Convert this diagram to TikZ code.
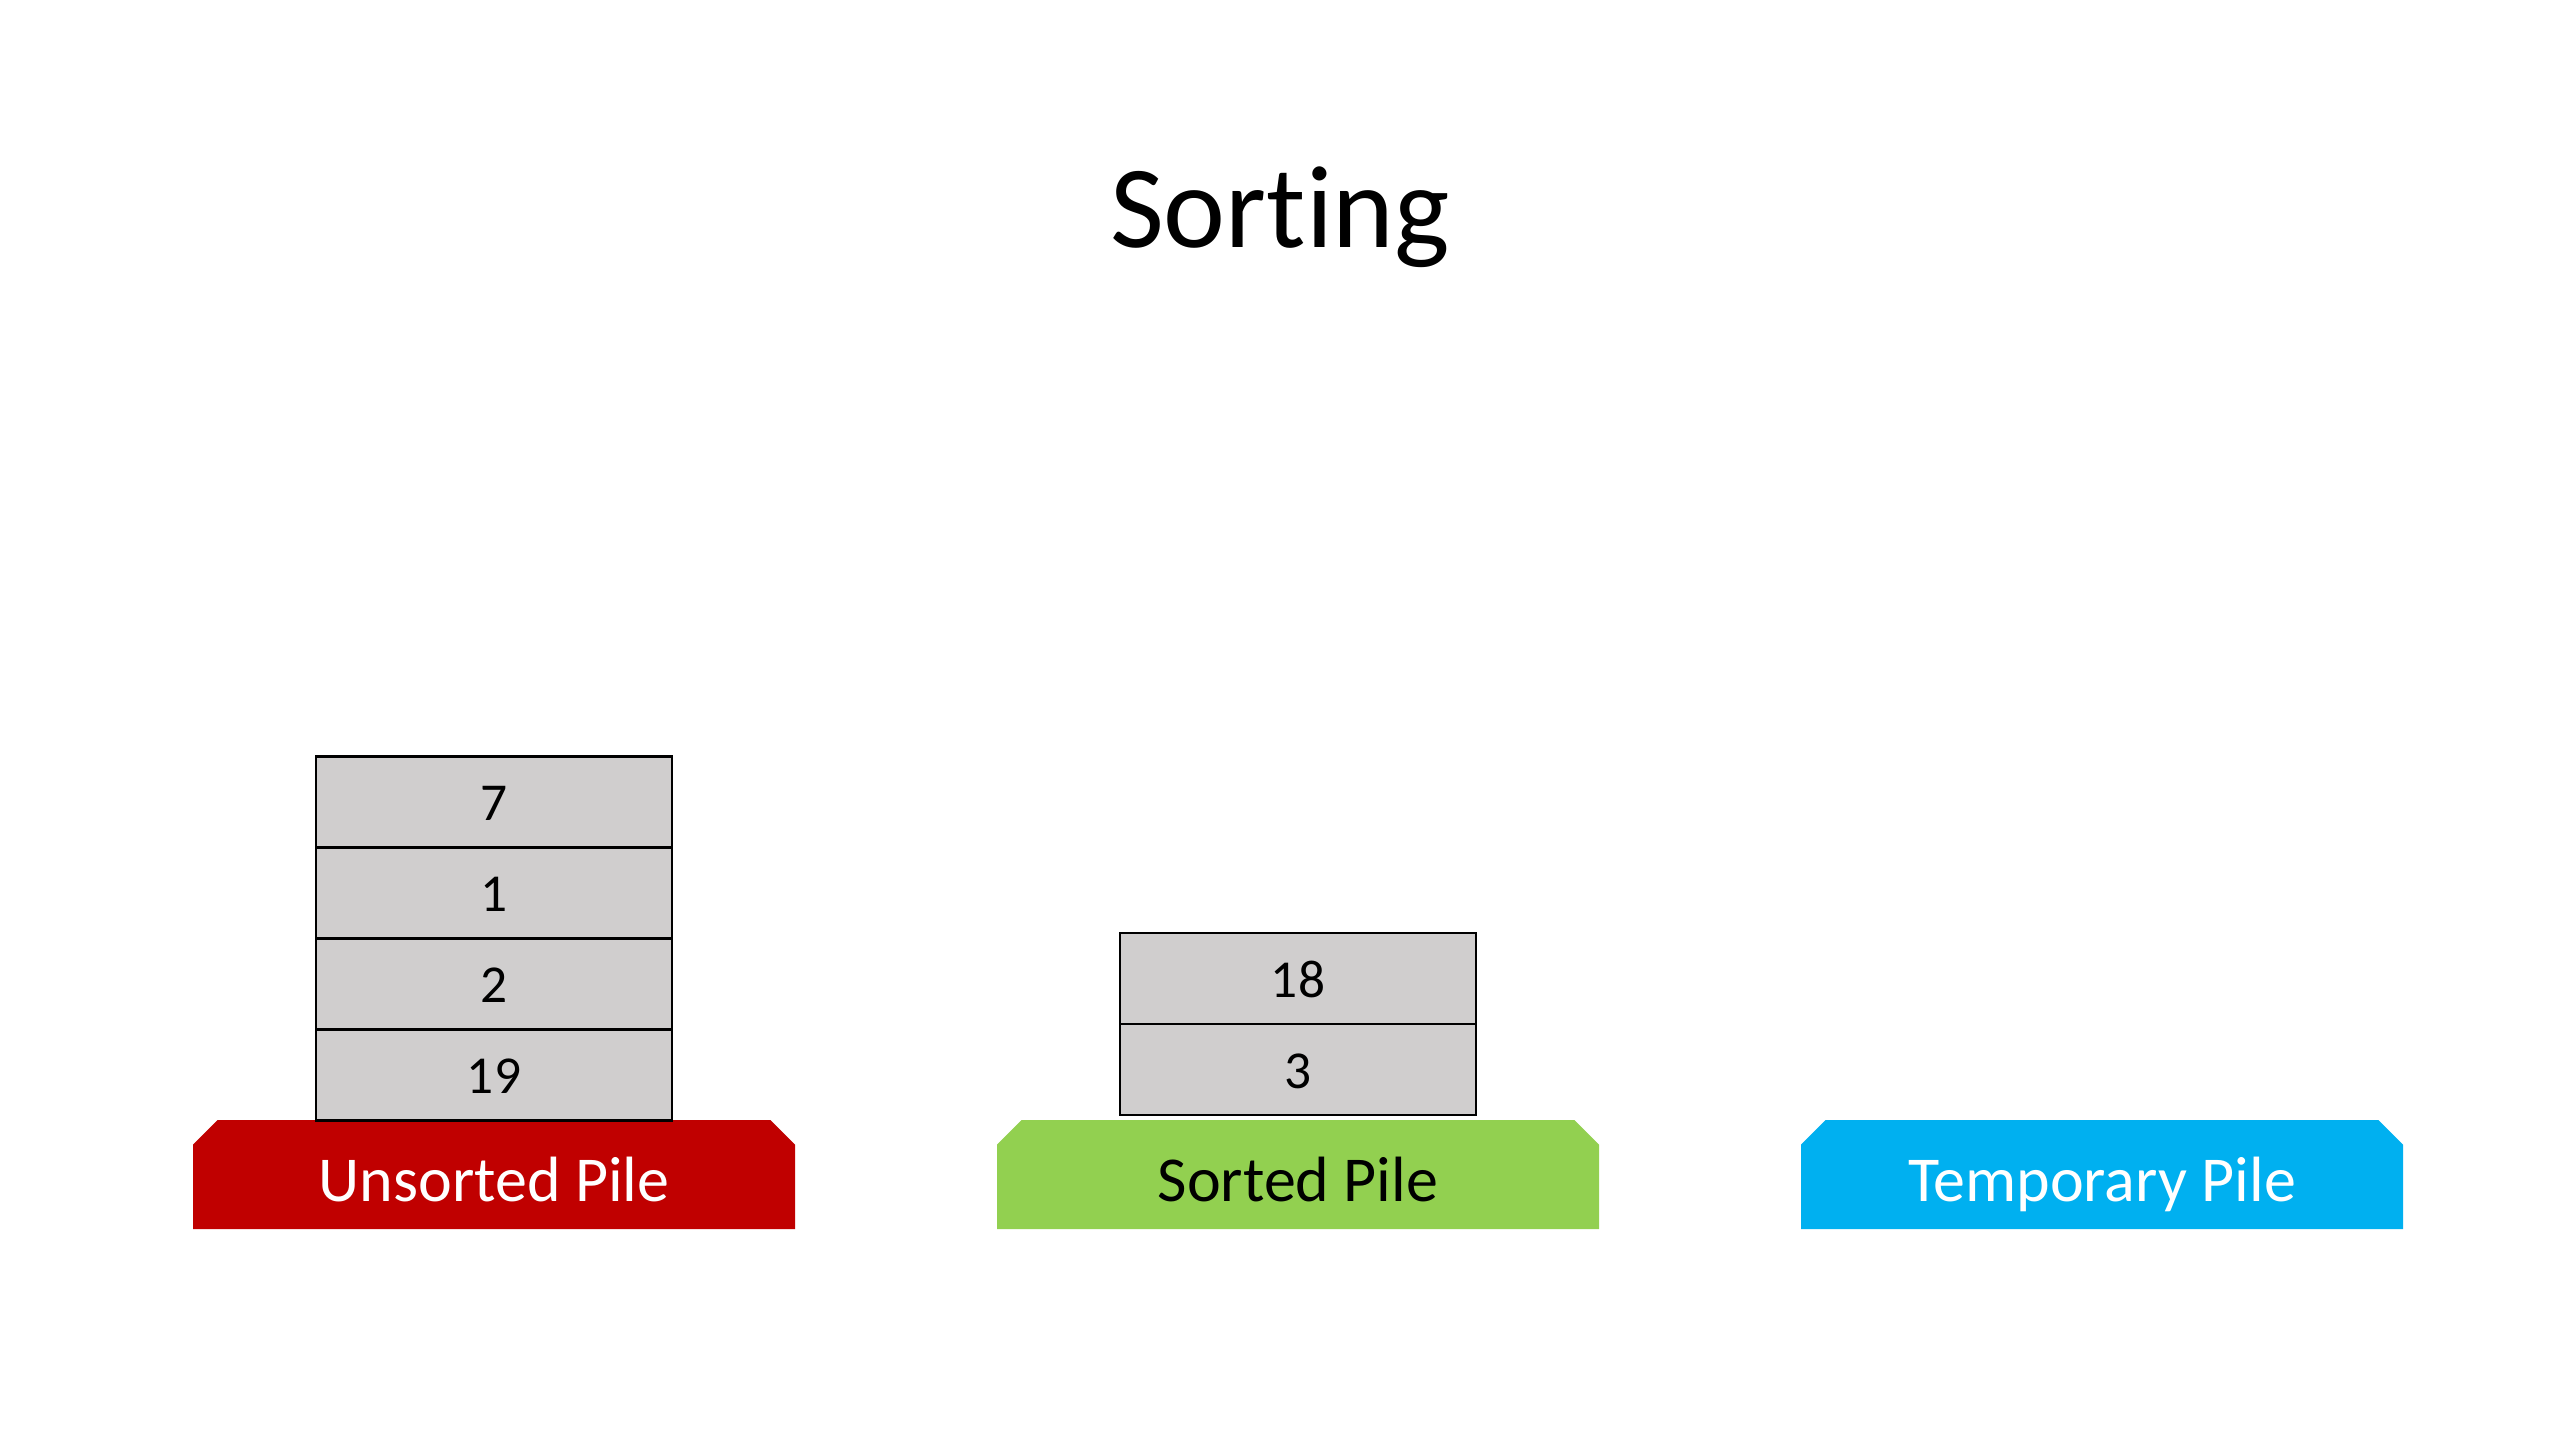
\documentclass[tikz,border=0pt]{standalone}
\usepackage{fontspec}
\setmainfont[Ligatures=NoCommon]{Carlito}
\usetikzlibrary{positioning,shapes.misc}
\definecolor{pilered}{HTML}{C00000}
\definecolor{pilegreen}{HTML}{92D050}
\definecolor{pileblue}{HTML}{00B0F0}
\definecolor{cardgray}{HTML}{D0CECE}
\begin{document}
\begin{tikzpicture}
[x=0.375pt,y=-0.375pt,
 pile/.style={chamfered rectangle,chamfered rectangle corners={north west,north east},chamfered rectangle xsep=6pt,
  minimum width=225.75pt,minimum height=40.9pt,inner sep=0pt,outer sep=0pt,text height=20.4pt,text depth=0pt,font=\fontsize{24}{28}\selectfont},
 card/.style={rectangle,draw=black,line width=1pt,fill=cardgray,minimum width=133.5pt,minimum height=34.1pt,
  inner sep=0pt,outer sep=0pt,text height=14pt,text depth=0pt,font=\fontsize{20}{24}\selectfont}]
\useasboundingbox (0,0) rectangle (2560,1440);
\node[anchor=base,font=\fontsize{44}{52}\selectfont] (title) at (1280,248) {Sort\kern0pt ing};
\node[pile,fill=pilered,text=white] (unsorted) at (494,1174.7) {Unsorted Pile};
\node[pile,fill=pilegreen] (sorted) at (1298,1174.7) {Sorted Pile};
\node[pile,fill=pileblue,text=white] (temporary) at (2102,1174.7) {Temporary Pile};
\node[card,above=0pt of unsorted] (u19) {19};
\node[card,above=0pt of u19] (u2) {2};
\node[card,above=0pt of u2] (u1) {1};
\node[card,above=0pt of u1] (u7) {7};
\node[card,above=2pt of sorted] (s3) {3};
\node[card,above=0pt of s3] (s18) {18};
\end{tikzpicture}
\end{document}
